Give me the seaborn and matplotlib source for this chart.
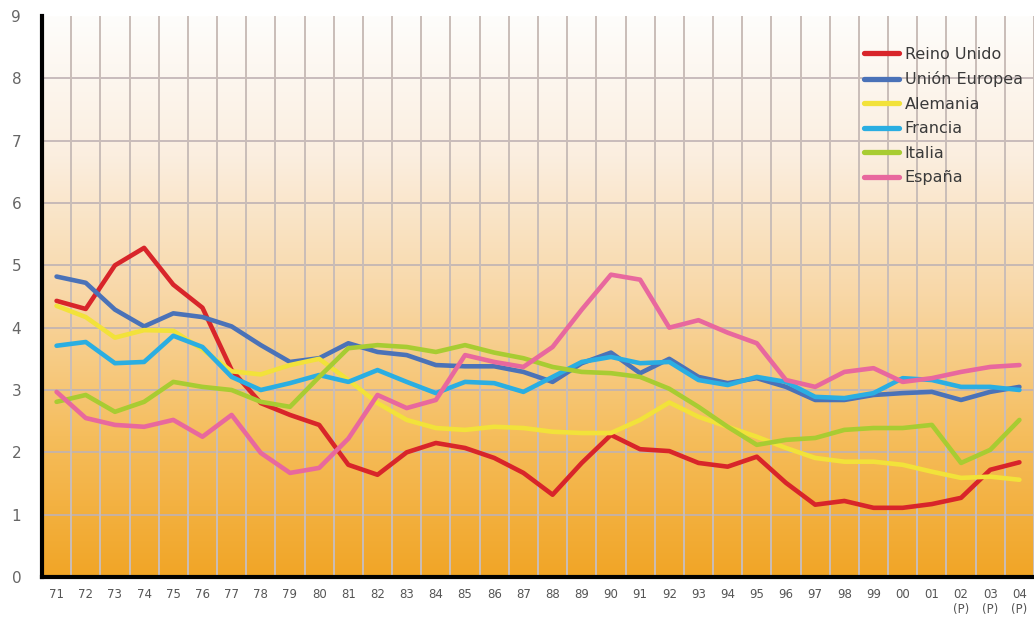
import numpy as np
import pandas as pd
import matplotlib
matplotlib.use("Agg")
import matplotlib.pyplot as plt
from matplotlib.colors import LinearSegmentedColormap
import seaborn as sns

# Years shown along the x axis (last three are provisional)
years = ["71", "72", "73", "74", "75", "76", "77", "78", "79", "80",
         "81", "82", "83", "84", "85", "86", "87", "88", "89", "90",
         "91", "92", "93", "94", "95", "96", "97", "98", "99", "00",
         "01", "02\n(P)", "03\n(P)", "04\n(P)"]

reino_unido = [4.43, 4.30, 5.00, 5.28, 4.69, 4.32, 3.32, 2.79, 2.60, 2.44,
               1.80, 1.64, 2.00, 2.15, 2.07, 1.91, 1.67, 1.32, 1.83, 2.28,
               2.05, 2.02, 1.83, 1.77, 1.93, 1.51, 1.16, 1.22, 1.11, 1.11,
               1.17, 1.27, 1.72, 1.84]
union_europea = [4.82, 4.72, 4.29, 4.02, 4.23, 4.17, 4.02, 3.72, 3.45, 3.51,
                 3.75, 3.61, 3.56, 3.40, 3.38, 3.38, 3.29, 3.13, 3.43, 3.60,
                 3.27, 3.50, 3.21, 3.11, 3.19, 3.05, 2.84, 2.84, 2.92, 2.95,
                 2.97, 2.84, 2.97, 3.05]
alemania = [4.35, 4.17, 3.84, 3.96, 3.95, 3.65, 3.30, 3.25, 3.40, 3.50,
            3.16, 2.79, 2.52, 2.39, 2.36, 2.41, 2.39, 2.33, 2.31, 2.31,
            2.52, 2.80, 2.57, 2.41, 2.25, 2.07, 1.91, 1.85, 1.85, 1.80,
            1.69, 1.59, 1.61, 1.56]
francia = [3.71, 3.77, 3.43, 3.45, 3.87, 3.69, 3.21, 3.00, 3.11, 3.24,
           3.13, 3.32, 3.13, 2.95, 3.13, 3.11, 2.97, 3.21, 3.45, 3.53,
           3.43, 3.45, 3.16, 3.08, 3.21, 3.13, 2.89, 2.87, 2.95, 3.19,
           3.16, 3.05, 3.05, 3.00]
italia = [2.81, 2.92, 2.65, 2.81, 3.13, 3.05, 3.00, 2.81, 2.73, 3.21,
          3.67, 3.72, 3.69, 3.61, 3.72, 3.60, 3.51, 3.37, 3.29, 3.27,
          3.21, 3.02, 2.73, 2.41, 2.12, 2.20, 2.23, 2.36, 2.39, 2.39,
          2.44, 1.83, 2.04, 2.52]
espana = [2.97, 2.55, 2.44, 2.41, 2.52, 2.25, 2.60, 1.99, 1.67, 1.75,
          2.22, 2.92, 2.71, 2.84, 3.56, 3.45, 3.37, 3.69, 4.29, 4.85,
          4.77, 4.00, 4.12, 3.92, 3.75, 3.16, 3.05, 3.29, 3.35, 3.13,
          3.19, 3.29, 3.37, 3.40]

series_names = ["Reino Unido", "Unión Europea", "Alemania", "Francia", "Italia", "España"]
series_values = [reino_unido, union_europea, alemania, francia, italia, espana]
series_colors = ["#d8252a", "#4a72b8", "#f2e23a", "#2aaee2", "#a8cc32", "#e8689e"]

rows = []
for name, vals in zip(series_names, series_values):
    for i, v in enumerate(vals):
        rows.append({"idx": i, "valor": v, "serie": name})
df = pd.DataFrame(rows)

sns.set_theme(style="white")
plt.rcParams["font.family"] = ["DejaVu Sans"]

fig = plt.figure(figsize=(10.34, 6.25), dpi=100)
ax = fig.add_axes([0.0406, 0.0768, 0.9594, 0.8976])

xmin, xmax = -0.5, 33.45
ymin, ymax = 0, 9

# Warm vertical gradient background
grad_cmap = LinearSegmentedColormap.from_list(
    "warm", [(0.0, "#f1a526"), (0.25, "#f5bd5c"), (0.5, "#f8d7a6"),
             (0.75, "#fbeedf"), (1.0, "#fefdfb")])
grad = np.linspace(0, 1, 256).reshape(-1, 1)
ax.imshow(grad, extent=[xmin, xmax, ymin, ymax], origin="lower",
          aspect="auto", cmap=grad_cmap, zorder=0)

# Grid: horizontal at integers, vertical between years
for y in range(1, 9):
    ax.axhline(y, color="#bfb2b4", lw=1.2, zorder=1)
for x in np.arange(0.5, 34, 1.0):
    ax.axvline(x, color="#c9bdb8", lw=1.4, zorder=1)

sns.lineplot(data=df, x="idx", y="valor", hue="serie", hue_order=series_names,
             palette=series_colors, linewidth=3.3, ax=ax, zorder=3,
             legend=True)

ax.set_xlim(xmin, xmax)
ax.set_ylim(ymin, ymax)
ax.set_xticks(range(len(years)))
ax.set_xticklabels(years, fontsize=8.5, color="#555555", linespacing=1.15)
ax.set_yticks(range(0, 10))
ax.set_yticklabels([str(v) for v in range(0, 10)], fontsize=11, color="#666666")
ax.set_xticks(np.arange(0.5, 33.6, 1.0), minor=True)
ax.tick_params(axis="x", which="major", length=0, pad=8)
ax.tick_params(axis="x", which="minor", length=3, width=2, color="black", direction="in")
ax.tick_params(axis="y", which="major", length=3, width=2, color="black", direction="out", pad=12)
ax.set_xlabel("")
ax.set_ylabel("")

for side in ["top", "right"]:
    ax.spines[side].set_visible(False)
ax.spines["left"].set_linewidth(3)
ax.spines["left"].set_color("black")
ax.spines["bottom"].set_linewidth(3)
ax.spines["bottom"].set_color("black")

leg = ax.legend(loc="upper left", bbox_to_anchor=(0.822, 0.957), frameon=False,
                fontsize=11.5, handlelength=2.2, handletextpad=0.35,
                labelspacing=0.6, borderaxespad=0)
for line in leg.get_lines():
    line.set_linewidth(3.8)
for t in leg.get_texts():
    t.set_color("#3a3a3a")

fig.savefig("out.png", dpi=100, facecolor="white")
